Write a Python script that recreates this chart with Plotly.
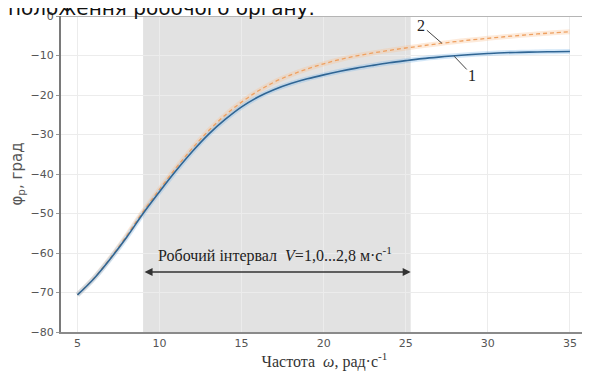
import plotly.graph_objects as go

omega = [5, 6, 7, 8, 9, 10, 11, 12, 13, 14, 15, 16, 17, 18, 19, 20,
         21, 22, 23, 24, 25, 26, 27, 28, 29, 30, 31, 32, 33, 34, 35]
phi_1 = [-70.6, -66.5, -61.5, -56.0, -50.0, -44.5, -39.2, -34.3, -29.9, -26.2,
         -23.0, -20.5, -18.6, -17.1, -15.9, -14.9, -14.0, -13.2, -12.5, -11.85,
         -11.3, -10.8, -10.4, -10.05, -9.75, -9.5, -9.3, -9.2, -9.1, -9.05, -9.0]
phi_2 = [-70.6, -66.4, -61.3, -55.6, -49.5, -43.9, -38.5, -33.5, -29.0, -25.1,
         -21.8, -19.0, -16.7, -14.9, -13.4, -12.1, -11.0, -10.1, -9.35, -8.7,
         -8.1, -7.55, -7.0, -6.5, -6.05, -5.65, -5.25, -4.9, -4.55, -4.25, -4.0]
x_ticks = [5, 10, 15, 20, 25, 30, 35]
y_ticks = [0, -10, -20, -30, -40, -50, -60, -70, -80]
work_interval = [9.0, 25.3]

serif = "Liberation Serif, Times New Roman, serif"
sans = "DejaVu Sans, Arial, sans-serif"

fig = go.Figure()

# glow under curves
fig.add_trace(go.Scatter(x=omega, y=phi_2, mode="lines",
                         line=dict(color="rgba(250,195,150,0.35)", width=5, shape="spline"),
                         hoverinfo="skip", showlegend=False))
fig.add_trace(go.Scatter(x=omega, y=phi_1, mode="lines",
                         line=dict(color="rgba(130,185,235,0.35)", width=5, shape="spline"),
                         hoverinfo="skip", showlegend=False))
fig.add_trace(go.Scatter(x=omega, y=phi_2, mode="lines", name="2",
                         line=dict(color="#eea060", width=1.3, dash="4px,3px", shape="spline"),
                         showlegend=False))
fig.add_trace(go.Scatter(x=omega, y=phi_1, mode="lines", name="1",
                         line=dict(color="#2f6594", width=1.6, shape="spline"),
                         showlegend=False))

# shaded working interval
fig.add_shape(type="rect", xref="x", yref="paper",
              x0=work_interval[0], x1=work_interval[1], y0=0, y1=1,
              fillcolor="#e2e2e2", line=dict(width=0), layer="below")
# top border
fig.add_shape(type="line", xref="paper", yref="y", x0=0, x1=1, y0=0, y1=0,
              line=dict(color="#b5b5b5", width=2))

# working interval arrow
fig.add_annotation(x=work_interval[1], y=-64.8, ax=work_interval[0], ay=-64.8,
                   xref="x", yref="y", axref="x", ayref="y", text="",
                   showarrow=True, arrowhead=2, arrowside="end+start",
                   arrowsize=1, arrowwidth=1.6, arrowcolor="#333")
fig.add_annotation(x=(work_interval[0] + work_interval[1]) / 2 - 0.1, y=-60.4,
                   xref="x", yref="y", showarrow=False,
                   text="Робочий інтервал  <i>V</i>=1,0...2,8 м·с<sup>-1</sup>",
                   font=dict(family=serif, size=16, color="#222"))

# curve labels
fig.add_annotation(x=27.2, y=-6.9, ax=25.95, ay=-2.4, xref="x", yref="y",
                   axref="x", ayref="y", text="2", showarrow=True, arrowhead=0,
                   arrowwidth=1, arrowcolor="#444",
                   font=dict(family=serif, size=16, color="#222"))
fig.add_annotation(x=27.95, y=-10.2, ax=29.05, ay=-15.0, xref="x", yref="y",
                   axref="x", ayref="y", text="1", showarrow=True, arrowhead=0,
                   arrowwidth=1, arrowcolor="#444",
                   font=dict(family=serif, size=16, color="#222"))

fig.update_layout(
    width=582, height=363,
    margin=dict(l=53, r=2, t=8, b=39, autoexpand=False),
    paper_bgcolor="white", plot_bgcolor="white",
    title=dict(text="положення робочого органу.", x=0.0, xanchor="left",
               xref="container", yref="container", y=1.0, yanchor="middle",
               automargin=False,
               font=dict(family=sans, size=20, color="#111")),
    xaxis=dict(range=[4, 36.1], tickvals=x_ticks, showgrid=True,
               gridcolor="#ececec", gridwidth=1, zeroline=False,
               showline=True, linecolor="#8a8a8a", linewidth=2,
               ticks="", tickfont=dict(family=sans, size=11, color="#555"),
               title=dict(text="Частота  <i>ω</i>, рад·с<sup>-1</sup>", standoff=2,
                          font=dict(family=serif, size=16, color="#333"))),
    yaxis=dict(range=[-80, 0], tickvals=y_ticks, showgrid=True,
               gridcolor="#ececec", gridwidth=1, zeroline=False,
               showline=True, linecolor="#7a7a7a", linewidth=2,
               ticks="outside", ticklen=3, tickcolor="#999",
               tickfont=dict(family=sans, size=11, color="#555"),
               title=dict(text="φ<sub>р</sub>, град", standoff=6,
                          font=dict(family=sans, size=15, color="#555"))),
)

fig.write_html("out.html")
